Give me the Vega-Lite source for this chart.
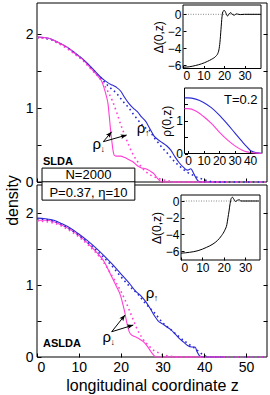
{
"$schema": "https://vega.github.io/schema/vega-lite/v6.json",
"width": 230, "height": 354,
"autosize": "none",
"padding": {"left": 37, "top": 3, "right": 3, "bottom": 38},
"background": "#ffffff",
"config": {
 "font": "Liberation Sans",
 "view": {"stroke": null},
 "axis": {"grid": false, "domain": false, "tickColor": "#000", "labelColor": "#000", "titleColor": "#000",
  "labelFont": "Liberation Sans", "titleFont": "Liberation Sans", "titleFontWeight": "normal", "labelFontSize": 14, "tickWidth": 1}
},
"datasets": {
 "top": [
  {"z":0,"rho":1.96,"spin":"up","set":1},{"z":3,"rho":1.94,"spin":"up","set":1},{"z":5,"rho":1.89,"spin":"up","set":1},{"z":7,"rho":1.83,"spin":"up","set":1},{"z":9,"rho":1.75,"spin":"up","set":1},{"z":11,"rho":1.66,"spin":"up","set":1},{"z":13,"rho":1.55,"spin":"up","set":1},{"z":15,"rho":1.43,"spin":"up","set":1},{"z":16,"rho":1.38,"spin":"up","set":1},{"z":17,"rho":1.34,"spin":"up","set":1},{"z":18,"rho":1.31,"spin":"up","set":1},{"z":19,"rho":1.28,"spin":"up","set":1},{"z":20,"rho":1.23,"spin":"up","set":1},{"z":21,"rho":1.14,"spin":"up","set":1},{"z":22,"rho":1.06,"spin":"up","set":1},{"z":23,"rho":1.0,"spin":"up","set":1},{"z":24,"rho":0.95,"spin":"up","set":1},{"z":25,"rho":0.88,"spin":"up","set":1},{"z":26,"rho":0.82,"spin":"up","set":1},{"z":27,"rho":0.72,"spin":"up","set":1},{"z":28,"rho":0.62,"spin":"up","set":1},{"z":29,"rho":0.57,"spin":"up","set":1},{"z":30,"rho":0.53,"spin":"up","set":1},{"z":31,"rho":0.49,"spin":"up","set":1},{"z":32,"rho":0.43,"spin":"up","set":1},{"z":33,"rho":0.34,"spin":"up","set":1},{"z":34,"rho":0.26,"spin":"up","set":1},{"z":35,"rho":0.2,"spin":"up","set":1},{"z":36,"rho":0.16,"spin":"up","set":1},{"z":36.8,"rho":0.18,"spin":"up","set":1},{"z":37.5,"rho":0.11,"spin":"up","set":1},{"z":38.3,"rho":0.03,"spin":"up","set":1},{"z":39,"rho":0,"spin":"up","set":1},{"z":45,"rho":0,"spin":"up","set":1},
  {"z":0,"rho":1.96,"spin":"down","set":1},{"z":3,"rho":1.94,"spin":"down","set":1},{"z":5,"rho":1.89,"spin":"down","set":1},{"z":7,"rho":1.83,"spin":"down","set":1},{"z":9,"rho":1.74,"spin":"down","set":1},{"z":11,"rho":1.65,"spin":"down","set":1},{"z":13,"rho":1.53,"spin":"down","set":1},{"z":14,"rho":1.47,"spin":"down","set":1},{"z":15,"rho":1.4,"spin":"down","set":1},{"z":15.5,"rho":1.36,"spin":"down","set":1},{"z":16,"rho":1.28,"spin":"down","set":1},{"z":16.5,"rho":1.18,"spin":"down","set":1},{"z":17,"rho":1.05,"spin":"down","set":1},{"z":17.3,"rho":0.88,"spin":"down","set":1},{"z":17.6,"rho":0.7,"spin":"down","set":1},{"z":17.9,"rho":0.55,"spin":"down","set":1},{"z":18.2,"rho":0.42,"spin":"down","set":1},{"z":18.5,"rho":0.36,"spin":"down","set":1},{"z":19,"rho":0.35,"spin":"down","set":1},{"z":20,"rho":0.35,"spin":"down","set":1},{"z":21,"rho":0.33,"spin":"down","set":1},{"z":22,"rho":0.3,"spin":"down","set":1},{"z":23,"rho":0.27,"spin":"down","set":1},{"z":24,"rho":0.22,"spin":"down","set":1},{"z":25,"rho":0.19,"spin":"down","set":1},{"z":26,"rho":0.18,"spin":"down","set":1},{"z":27,"rho":0.15,"spin":"down","set":1},{"z":28,"rho":0.11,"spin":"down","set":1},{"z":28.8,"rho":0.05,"spin":"down","set":1},{"z":29.5,"rho":0.01,"spin":"down","set":1},{"z":30,"rho":0,"spin":"down","set":1},{"z":45,"rho":0,"spin":"down","set":1},
  {"z":0,"rho":1.95,"spin":"up","set":2},{"z":3,"rho":1.93,"spin":"up","set":2},{"z":5,"rho":1.88,"spin":"up","set":2},{"z":7,"rho":1.82,"spin":"up","set":2},{"z":9,"rho":1.74,"spin":"up","set":2},{"z":11,"rho":1.65,"spin":"up","set":2},{"z":13,"rho":1.54,"spin":"up","set":2},{"z":15,"rho":1.42,"spin":"up","set":2},{"z":16,"rho":1.36,"spin":"up","set":2},{"z":17,"rho":1.3,"spin":"up","set":2},{"z":18,"rho":1.25,"spin":"up","set":2},{"z":19,"rho":1.2,"spin":"up","set":2},{"z":20,"rho":1.13,"spin":"up","set":2},{"z":21,"rho":1.06,"spin":"up","set":2},{"z":22,"rho":1.0,"spin":"up","set":2},{"z":23,"rho":0.92,"spin":"up","set":2},{"z":24,"rho":0.85,"spin":"up","set":2},{"z":25,"rho":0.78,"spin":"up","set":2},{"z":26,"rho":0.73,"spin":"up","set":2},{"z":27,"rho":0.69,"spin":"up","set":2},{"z":28,"rho":0.6,"spin":"up","set":2},{"z":29,"rho":0.53,"spin":"up","set":2},{"z":30,"rho":0.46,"spin":"up","set":2},{"z":31,"rho":0.4,"spin":"up","set":2},{"z":32,"rho":0.33,"spin":"up","set":2},{"z":33,"rho":0.27,"spin":"up","set":2},{"z":34,"rho":0.22,"spin":"up","set":2},{"z":35,"rho":0.17,"spin":"up","set":2},{"z":36,"rho":0.13,"spin":"up","set":2},{"z":37,"rho":0.1,"spin":"up","set":2},{"z":38,"rho":0.07,"spin":"up","set":2},{"z":39,"rho":0.05,"spin":"up","set":2},{"z":40,"rho":0.03,"spin":"up","set":2},{"z":41,"rho":0.015,"spin":"up","set":2},{"z":42,"rho":0,"spin":"up","set":2},{"z":55,"rho":0,"spin":"up","set":2},
  {"z":0,"rho":1.95,"spin":"down","set":2},{"z":3,"rho":1.93,"spin":"down","set":2},{"z":5,"rho":1.88,"spin":"down","set":2},{"z":7,"rho":1.81,"spin":"down","set":2},{"z":9,"rho":1.73,"spin":"down","set":2},{"z":11,"rho":1.64,"spin":"down","set":2},{"z":13,"rho":1.52,"spin":"down","set":2},{"z":15,"rho":1.4,"spin":"down","set":2},{"z":16,"rho":1.32,"spin":"down","set":2},{"z":17,"rho":1.22,"spin":"down","set":2},{"z":18,"rho":1.1,"spin":"down","set":2},{"z":19,"rho":0.95,"spin":"down","set":2},{"z":20,"rho":0.78,"spin":"down","set":2},{"z":21,"rho":0.63,"spin":"down","set":2},{"z":22,"rho":0.49,"spin":"down","set":2},{"z":23,"rho":0.37,"spin":"down","set":2},{"z":24,"rho":0.28,"spin":"down","set":2},{"z":25,"rho":0.2,"spin":"down","set":2},{"z":26,"rho":0.14,"spin":"down","set":2},{"z":27,"rho":0.1,"spin":"down","set":2},{"z":28,"rho":0.07,"spin":"down","set":2},{"z":29,"rho":0.05,"spin":"down","set":2},{"z":30,"rho":0.03,"spin":"down","set":2},{"z":31,"rho":0.02,"spin":"down","set":2},{"z":32,"rho":0.01,"spin":"down","set":2},{"z":33,"rho":0,"spin":"down","set":2},{"z":55,"rho":0,"spin":"down","set":2}
 ],
 "bottom": [
  {"z":0,"rho":1.93,"spin":"up","set":1},{"z":2,"rho":1.92,"spin":"up","set":1},{"z":4,"rho":1.9,"spin":"up","set":1},{"z":6,"rho":1.85,"spin":"up","set":1},{"z":8,"rho":1.79,"spin":"up","set":1},{"z":10,"rho":1.71,"spin":"up","set":1},{"z":12,"rho":1.62,"spin":"up","set":1},{"z":14,"rho":1.52,"spin":"up","set":1},{"z":16,"rho":1.41,"spin":"up","set":1},{"z":18,"rho":1.29,"spin":"up","set":1},{"z":20,"rho":1.16,"spin":"up","set":1},{"z":22,"rho":1.03,"spin":"up","set":1},{"z":23.5,"rho":0.92,"spin":"up","set":1},{"z":25,"rho":0.84,"spin":"up","set":1},{"z":26,"rho":0.77,"spin":"up","set":1},{"z":27,"rho":0.68,"spin":"up","set":1},{"z":28,"rho":0.58,"spin":"up","set":1},{"z":29,"rho":0.5,"spin":"up","set":1},{"z":30,"rho":0.46,"spin":"up","set":1},{"z":31,"rho":0.42,"spin":"up","set":1},{"z":32,"rho":0.38,"spin":"up","set":1},{"z":33,"rho":0.32,"spin":"up","set":1},{"z":34,"rho":0.26,"spin":"up","set":1},{"z":35,"rho":0.21,"spin":"up","set":1},{"z":36,"rho":0.16,"spin":"up","set":1},{"z":37,"rho":0.14,"spin":"up","set":1},{"z":37.8,"rho":0.14,"spin":"up","set":1},{"z":38.3,"rho":0.07,"spin":"up","set":1},{"z":39,"rho":0.01,"spin":"up","set":1},{"z":40,"rho":0,"spin":"up","set":1},{"z":45,"rho":0,"spin":"up","set":1},
  {"z":0,"rho":1.9,"spin":"down","set":1},{"z":2,"rho":1.9,"spin":"down","set":1},{"z":4,"rho":1.88,"spin":"down","set":1},{"z":6,"rho":1.83,"spin":"down","set":1},{"z":8,"rho":1.77,"spin":"down","set":1},{"z":10,"rho":1.69,"spin":"down","set":1},{"z":12,"rho":1.59,"spin":"down","set":1},{"z":14,"rho":1.47,"spin":"down","set":1},{"z":16,"rho":1.33,"spin":"down","set":1},{"z":17,"rho":1.22,"spin":"down","set":1},{"z":18,"rho":1.1,"spin":"down","set":1},{"z":19,"rho":0.98,"spin":"down","set":1},{"z":20,"rho":0.85,"spin":"down","set":1},{"z":20.5,"rho":0.74,"spin":"down","set":1},{"z":21,"rho":0.62,"spin":"down","set":1},{"z":21.5,"rho":0.47,"spin":"down","set":1},{"z":22,"rho":0.36,"spin":"down","set":1},{"z":22.5,"rho":0.31,"spin":"down","set":1},{"z":23.5,"rho":0.28,"spin":"down","set":1},{"z":24.5,"rho":0.25,"spin":"down","set":1},{"z":25.5,"rho":0.21,"spin":"down","set":1},{"z":26.5,"rho":0.14,"spin":"down","set":1},{"z":27.3,"rho":0.07,"spin":"down","set":1},{"z":28,"rho":0.02,"spin":"down","set":1},{"z":28.5,"rho":0,"spin":"down","set":1},{"z":45,"rho":0,"spin":"down","set":1},
  {"z":0,"rho":1.92,"spin":"up","set":2},{"z":4,"rho":1.89,"spin":"up","set":2},{"z":8,"rho":1.77,"spin":"up","set":2},{"z":12,"rho":1.6,"spin":"up","set":2},{"z":16,"rho":1.38,"spin":"up","set":2},{"z":18,"rho":1.26,"spin":"up","set":2},{"z":20,"rho":1.12,"spin":"up","set":2},{"z":22,"rho":0.99,"spin":"up","set":2},{"z":24,"rho":0.88,"spin":"up","set":2},{"z":26,"rho":0.74,"spin":"up","set":2},{"z":27,"rho":0.68,"spin":"up","set":2},{"z":28,"rho":0.62,"spin":"up","set":2},{"z":29,"rho":0.55,"spin":"up","set":2},{"z":30,"rho":0.48,"spin":"up","set":2},{"z":32,"rho":0.38,"spin":"up","set":2},{"z":34,"rho":0.28,"spin":"up","set":2},{"z":36,"rho":0.19,"spin":"up","set":2},{"z":38,"rho":0.11,"spin":"up","set":2},{"z":39,"rho":0.06,"spin":"up","set":2},{"z":40,"rho":0.02,"spin":"up","set":2},{"z":41,"rho":0,"spin":"up","set":2},{"z":55,"rho":0,"spin":"up","set":2},
  {"z":0,"rho":1.89,"spin":"down","set":2},{"z":4,"rho":1.86,"spin":"down","set":2},{"z":8,"rho":1.75,"spin":"down","set":2},{"z":12,"rho":1.57,"spin":"down","set":2},{"z":16,"rho":1.31,"spin":"down","set":2},{"z":18,"rho":1.12,"spin":"down","set":2},{"z":20,"rho":0.92,"spin":"down","set":2},{"z":21,"rho":0.8,"spin":"down","set":2},{"z":22,"rho":0.66,"spin":"down","set":2},{"z":23,"rho":0.52,"spin":"down","set":2},{"z":24,"rho":0.38,"spin":"down","set":2},{"z":25,"rho":0.28,"spin":"down","set":2},{"z":26,"rho":0.2,"spin":"down","set":2},{"z":27,"rho":0.14,"spin":"down","set":2},{"z":28,"rho":0.09,"spin":"down","set":2},{"z":29,"rho":0.06,"spin":"down","set":2},{"z":30,"rho":0.03,"spin":"down","set":2},{"z":32,"rho":0.01,"spin":"down","set":2},{"z":33,"rho":0,"spin":"down","set":2},{"z":55,"rho":0,"spin":"down","set":2}
 ],
 "gap": [
  {"z":0,"delta":-6.25,"panel":"SLDA"},{"z":3,"delta":-6.2,"panel":"SLDA"},{"z":6,"delta":-6.05,"panel":"SLDA"},{"z":9,"delta":-5.85,"panel":"SLDA"},{"z":12,"delta":-5.55,"panel":"SLDA"},{"z":14,"delta":-5.3,"panel":"SLDA"},{"z":16,"delta":-4.95,"panel":"SLDA"},{"z":17,"delta":-4.6,"panel":"SLDA"},{"z":17.5,"delta":-4.2,"panel":"SLDA"},{"z":18,"delta":-3.3,"panel":"SLDA"},{"z":18.5,"delta":-1.8,"panel":"SLDA"},{"z":19,"delta":-0.3,"panel":"SLDA"},{"z":19.5,"delta":0.35,"panel":"SLDA"},{"z":20.2,"delta":0.45,"panel":"SLDA"},{"z":21,"delta":0.1,"panel":"SLDA"},{"z":21.7,"delta":-0.2,"panel":"SLDA"},{"z":22.5,"delta":0.05,"panel":"SLDA"},{"z":23.3,"delta":0.2,"panel":"SLDA"},{"z":24,"delta":0,"panel":"SLDA"},{"z":25,"delta":-0.1,"panel":"SLDA"},{"z":26,"delta":0.05,"panel":"SLDA"},{"z":27,"delta":0,"panel":"SLDA"},{"z":28,"delta":-0.03,"panel":"SLDA"},{"z":30,"delta":0,"panel":"SLDA"},{"z":38,"delta":0,"panel":"SLDA"},
  {"z":0,"delta":-6.25,"panel":"ASLDA"},{"z":4,"delta":-6.15,"panel":"ASLDA"},{"z":8,"delta":-5.95,"panel":"ASLDA"},{"z":12,"delta":-5.55,"panel":"ASLDA"},{"z":15,"delta":-5.15,"panel":"ASLDA"},{"z":17,"delta":-4.75,"panel":"ASLDA"},{"z":19,"delta":-4.15,"panel":"ASLDA"},{"z":20.5,"delta":-3.5,"panel":"ASLDA"},{"z":21.5,"delta":-2.8,"panel":"ASLDA"},{"z":22,"delta":-2.0,"panel":"ASLDA"},{"z":22.5,"delta":-1.2,"panel":"ASLDA"},{"z":23,"delta":-0.3,"panel":"ASLDA"},{"z":23.5,"delta":0.3,"panel":"ASLDA"},{"z":24.1,"delta":0.45,"panel":"ASLDA"},{"z":24.8,"delta":0.2,"panel":"ASLDA"},{"z":25.5,"delta":-0.05,"panel":"ASLDA"},{"z":26.5,"delta":0.1,"panel":"ASLDA"},{"z":27.3,"delta":0.15,"panel":"ASLDA"},{"z":28,"delta":0,"panel":"ASLDA"},{"z":29,"delta":0,"panel":"ASLDA"},{"z":36.5,"delta":0,"panel":"ASLDA"}
 ],
 "warm": [
  {"z":-2.3,"rho":1.7,"spin":"up"},{"z":0,"rho":1.7,"spin":"up"},{"z":5,"rho":1.66,"spin":"up"},{"z":10,"rho":1.56,"spin":"up"},{"z":15,"rho":1.4,"spin":"up"},{"z":20,"rho":1.18,"spin":"up"},{"z":25,"rho":0.92,"spin":"up"},{"z":30,"rho":0.64,"spin":"up"},{"z":35,"rho":0.36,"spin":"up"},{"z":38,"rho":0.2,"spin":"up"},{"z":40,"rho":0.1,"spin":"up"},{"z":42,"rho":0.05,"spin":"up"},{"z":45,"rho":0.02,"spin":"up"},{"z":47.7,"rho":0.005,"spin":"up"},
  {"z":-2.3,"rho":1.37,"spin":"down"},{"z":0,"rho":1.37,"spin":"down"},{"z":5,"rho":1.3,"spin":"down"},{"z":10,"rho":1.13,"spin":"down"},{"z":15,"rho":0.92,"spin":"down"},{"z":20,"rho":0.66,"spin":"down"},{"z":25,"rho":0.43,"spin":"down"},{"z":30,"rho":0.24,"spin":"down"},{"z":35,"rho":0.1,"spin":"down"},{"z":38,"rho":0.05,"spin":"down"},{"z":40,"rho":0.03,"spin":"down"},{"z":45,"rho":0.008,"spin":"down"},{"z":47.7,"rho":0.002,"spin":"down"}
 ]
},
"layer": [
 {
  "layer": [
   {"data": {"values": [{}]}, "mark": {"type": "rect", "fillOpacity": 0, "stroke": "#000", "strokeWidth": 1},
    "encoding": {
     "x": {"datum": 0, "type": "quantitative", "scale": {"domain": [0, 55], "range": [0, 230], "nice": false, "zero": false},
      "axis": {"orient": "bottom", "offset": -175, "values": [0,5,10,15,20,25,30,35,40,45,50], "labels": false, "tickSize": -4, "title": null, "zindex": 0}},
     "x2": {"datum": 55},
     "y": {"datum": 0, "type": "quantitative", "scale": {"domain": [0, 2.42], "range": [179, 0], "nice": false, "zero": false},
      "axis": {"orient": "left", "values": [0, 0.5, 1, 1.5, 2], "labelExpr": "datum.value % 1 === 0 ? format(datum.value, 'd') : ''", "tickSize": -4, "labelPadding": 8, "title": null, "zindex": 1}},
     "y2": {"datum": 2.42}}},
   {"data": {"name": "top"}, "transform": [{"filter": "datum.set === 1"}],
    "mark": {"type": "line", "strokeWidth": 1.1, "interpolate": "monotone"},
    "encoding": {
     "x": {"field": "z", "type": "quantitative"},
     "y": {"field": "rho", "type": "quantitative"},
     "color": {"field": "spin", "type": "nominal", "scale": {"domain": ["up", "down"], "range": ["#2a2ad4", "#ff3fd6"]}, "legend": null}}},
   {"data": {"name": "top"}, "transform": [{"filter": "datum.set === 2"}],
    "mark": {"type": "line", "strokeWidth": 1.6, "strokeDash": [1.6, 3.2], "interpolate": "monotone"},
    "encoding": {"x": {"field": "z", "type": "quantitative"}, "y": {"field": "rho", "type": "quantitative"},
     "color": {"field": "spin", "type": "nominal", "legend": null}}},
   {"data": {"values": [{"z": 1.43, "rho": 0.27, "label": "SLDA"}]},
    "mark": {"type": "text", "align": "left", "baseline": "middle", "fontWeight": "bold", "fontSize": 11},
    "encoding": {"x": {"field": "z", "type": "quantitative"}, "y": {"field": "rho", "type": "quantitative"}, "text": {"field": "label"}}},
   {"data": {"values": [{"z": 14.3, "rho": 0.52, "name": "ρ", "sub": "↓"}, {"z": 24.9, "rho": 0.73, "name": "ρ", "sub": "↑"}]},
    "layer": [
     {"mark": {"type": "text", "align": "center", "baseline": "middle", "fontSize": 15},
      "encoding": {"x": {"field": "z", "type": "quantitative"}, "y": {"field": "rho", "type": "quantitative"}, "text": {"field": "name"}}},
     {"mark": {"type": "text", "align": "center", "baseline": "middle", "fontSize": 9, "dx": 6, "dy": 5},
      "encoding": {"x": {"field": "z", "type": "quantitative"}, "y": {"field": "rho", "type": "quantitative"}, "text": {"field": "sub"}}}
    ]},
   {"data": {"values": [{"z0": 15.85, "r0": 0.545, "z1": 17.86, "r1": 0.68, "id": "a"}, {"z0": 15.85, "r0": 0.545, "z1": 21.45, "r1": 0.635, "id": "b"}]},
    "layer": [
     {"mark": {"type": "rule", "strokeWidth": 1, "color": "#000"},
      "encoding": {"x": {"field": "z0", "type": "quantitative"}, "y": {"field": "r0", "type": "quantitative"}, "x2": {"field": "z1"}, "y2": {"field": "r1"}}},
     {"transform": [{"filter": "datum.id === 'a'"}], "mark": {"type": "point", "shape": "M0,0L0.4,1L0,0.8L-0.4,1Z", "filled": true, "color": "#000", "size": 144, "angle": 40, "opacity": 1},
      "encoding": {"x": {"field": "z1", "type": "quantitative"}, "y": {"field": "r1", "type": "quantitative"}}},
     {"transform": [{"filter": "datum.id === 'b'"}], "mark": {"type": "point", "shape": "M0,0L0.4,1L0,0.8L-0.4,1Z", "filled": true, "color": "#000", "size": 144, "angle": 74, "opacity": 1},
      "encoding": {"x": {"field": "z1", "type": "quantitative"}, "y": {"field": "r1", "type": "quantitative"}}}
    ]}
  ]
 },
 {
  "layer": [
   {"data": {"values": [{}]}, "mark": {"type": "rect", "fillOpacity": 0, "stroke": "#000", "strokeWidth": 1},
    "encoding": {
     "x": {"datum": 0, "type": "quantitative", "scale": {"domain": [0, 55], "range": [0, 230], "nice": false, "zero": false},
      "axis": {"orient": "bottom", "values": [0,5,10,15,20,25,30,35,40,45,50], "labelExpr": "datum.value % 10 === 0 ? format(datum.value, 'd') : ''", "tickSize": -4, "labelPadding": 7, "title": "longitudinal coordinate z", "titleFontSize": 16, "titlePadding": 3, "zindex": 1}},
     "x2": {"datum": 55},
     "y": {"datum": 0, "type": "quantitative", "scale": {"domain": [0, 2.39], "range": [354, 182], "nice": false, "zero": false},
      "axis": {"orient": "left", "values": [0, 0.5, 1, 1.5, 2], "labelExpr": "datum.value % 1 === 0 ? format(datum.value, 'd') : ''", "tickSize": -4, "labelPadding": 8, "title": "density", "titleFontSize": 16, "titleX": -25, "titleY": 197, "titleBaseline": "middle", "titleAlign": "center", "zindex": 1}},
     "y2": {"datum": 2.39}}},
   {"data": {"name": "bottom"}, "transform": [{"filter": "datum.set === 1"}],
    "mark": {"type": "line", "strokeWidth": 1.1, "interpolate": "monotone"},
    "encoding": {
     "x": {"field": "z", "type": "quantitative"},
     "y": {"field": "rho", "type": "quantitative"},
     "color": {"field": "spin", "type": "nominal", "scale": {"domain": ["up", "down"], "range": ["#2a2ad4", "#ff3fd6"]}, "legend": null}}},
   {"data": {"name": "bottom"}, "transform": [{"filter": "datum.set === 2"}],
    "mark": {"type": "line", "strokeWidth": 1.6, "strokeDash": [1.6, 3.2], "interpolate": "monotone"},
    "encoding": {"x": {"field": "z", "type": "quantitative"}, "y": {"field": "rho", "type": "quantitative"},
     "color": {"field": "spin", "type": "nominal", "legend": null}}},
   {"data": {"values": [{"z": 1.43, "rho": 0.18, "label": "ASLDA"}]},
    "mark": {"type": "text", "align": "left", "baseline": "middle", "fontWeight": "bold", "fontSize": 11},
    "encoding": {"x": {"field": "z", "type": "quantitative"}, "y": {"field": "rho", "type": "quantitative"}, "text": {"field": "label"}}},
   {"data": {"values": [{"z": 16.67, "rho": 0.28, "name": "ρ", "sub": "↓"}, {"z": 27.0, "rho": 0.885, "name": "ρ", "sub": "↑"}]},
    "layer": [
     {"mark": {"type": "text", "align": "center", "baseline": "middle", "fontSize": 15},
      "encoding": {"x": {"field": "z", "type": "quantitative"}, "y": {"field": "rho", "type": "quantitative"}, "text": {"field": "name"}}},
     {"mark": {"type": "text", "align": "center", "baseline": "middle", "fontSize": 9, "dx": 6, "dy": 5},
      "encoding": {"x": {"field": "z", "type": "quantitative"}, "y": {"field": "rho", "type": "quantitative"}, "text": {"field": "sub"}}}
    ]},
   {"data": {"values": [{"z0": 17.86, "r0": 0.351, "z1": 21.04, "r1": 0.583, "id": "a"}, {"z0": 17.86, "r0": 0.351, "z1": 23.03, "r1": 0.444, "id": "b"}]},
    "layer": [
     {"mark": {"type": "rule", "strokeWidth": 1, "color": "#000"},
      "encoding": {"x": {"field": "z0", "type": "quantitative"}, "y": {"field": "r0", "type": "quantitative"}, "x2": {"field": "z1"}, "y2": {"field": "r1"}}},
     {"transform": [{"filter": "datum.id === 'a'"}], "mark": {"type": "point", "shape": "M0,0L0.4,1L0,0.8L-0.4,1Z", "filled": true, "color": "#000", "size": 144, "angle": 38, "opacity": 1},
      "encoding": {"x": {"field": "z1", "type": "quantitative"}, "y": {"field": "r1", "type": "quantitative"}}},
     {"transform": [{"filter": "datum.id === 'b'"}], "mark": {"type": "point", "shape": "M0,0L0.4,1L0,0.8L-0.4,1Z", "filled": true, "color": "#000", "size": 144, "angle": 73, "opacity": 1},
      "encoding": {"x": {"field": "z1", "type": "quantitative"}, "y": {"field": "r1", "type": "quantitative"}}}
    ]},
   {"data": {"values": [{}]}, "mark": {"type": "rect", "fill": "#ffffff", "stroke": "#000", "strokeWidth": 1},
    "encoding": {"x": {"datum": 1.2, "type": "quantitative"}, "x2": {"datum": 23.4}, "y": {"datum": 2.18, "type": "quantitative"}, "y2": {"datum": 2.625}}},
   {"data": {"values": [{}]}, "mark": {"type": "rule", "color": "#000", "strokeWidth": 1},
    "encoding": {"x": {"datum": 1.2, "type": "quantitative"}, "x2": {"datum": 23.4}, "y": {"datum": 2.435, "type": "quantitative"}}},
   {"data": {"values": [{"z": 12.3, "rho": 2.525, "label": "N=2000"}, {"z": 12.3, "rho": 2.285, "label": "P=0.37, η=10"}]},
    "mark": {"type": "text", "align": "center", "baseline": "middle", "fontSize": 13},
    "encoding": {"x": {"field": "z", "type": "quantitative"}, "y": {"field": "rho", "type": "quantitative"}, "text": {"field": "label"}}}
  ]
 },
 {
  "data": {"values": [{}]},
  "mark": {"type": "rule", "strokeOpacity": 0},
  "encoding": {
   "y": {"datum": 0, "type": "quantitative", "scale": {"domain": [0, 2.42], "range": [179, 0], "nice": false, "zero": false},
    "axis": {"orient": "right", "values": [0.5, 1, 1.5, 2], "labels": false, "tickSize": -4, "title": null, "zindex": 1}}}
 },
 {
  "data": {"values": [{}]},
  "mark": {"type": "rule", "strokeOpacity": 0},
  "encoding": {
   "y": {"datum": 0, "type": "quantitative", "scale": {"domain": [0, 2.39], "range": [354, 182], "nice": false, "zero": false},
    "axis": {"orient": "right", "values": [0.5, 1, 1.5, 2], "labels": false, "tickSize": -4, "title": null, "zindex": 1}}}
 },
 {
  "layer": [
   {"data": {"values": [{}]}, "mark": {"type": "rect", "fill": "#ffffff", "stroke": "#000", "strokeWidth": 1},
    "encoding": {
     "x": {"datum": 0, "type": "quantitative", "scale": {"domain": [0, 38], "range": [146, 224], "nice": false, "zero": false},
      "axis": {"orient": "bottom", "offset": -288.5, "values": [0, 10, 20, 30], "tickSize": -3, "labelPadding": 5, "labelFontSize": 12, "title": null, "zindex": 1}},
     "x2": {"datum": 38},
     "y": {"datum": -6.4, "type": "quantitative", "scale": {"domain": [-6.4, 1.1], "range": [65.5, 2], "nice": false, "zero": false},
      "axis": {"orient": "left", "offset": -146, "values": [0, -2, -4, -6], "tickSize": -3, "labelPadding": 5, "labelFontSize": 12, "title": "Δ(0,z)", "titleFontSize": 12, "titlePadding": 2, "zindex": 1}},
     "y2": {"datum": 1.1}}},
   {"data": {"values": [{}]}, "mark": {"type": "rule", "color": "#888", "strokeWidth": 1, "strokeDash": [1, 1.5]},
    "encoding": {"x": {"datum": 0, "type": "quantitative"}, "x2": {"datum": 38}, "y": {"datum": 0, "type": "quantitative"}}},
   {"data": {"name": "gap"}, "transform": [{"filter": "datum.panel === 'SLDA'"}],
    "mark": {"type": "line", "color": "#000", "strokeWidth": 1, "interpolate": "monotone"},
    "encoding": {"x": {"field": "z", "type": "quantitative"}, "y": {"field": "delta", "type": "quantitative"}}}
  ]
 },
 {
  "layer": [
   {"data": {"values": [{}]}, "mark": {"type": "rect", "fill": "#ffffff", "stroke": "#000", "strokeWidth": 1},
    "encoding": {
     "x": {"datum": -2.3, "type": "quantitative", "scale": {"domain": [-2.3, 47.7], "range": [147.5, 225], "nice": false, "zero": false},
      "axis": {"orient": "bottom", "offset": -203.5, "values": [0, 10, 20, 30, 40], "tickSize": -3, "labelPadding": 5, "labelFontSize": 12, "title": null, "zindex": 1}},
     "x2": {"datum": 47.7},
     "y": {"datum": 0, "type": "quantitative", "scale": {"domain": [0, 2], "range": [150.5, 85], "nice": false, "zero": false},
      "axis": {"orient": "left", "offset": -147.5, "values": [0, 0.5, 1, 1.5], "labelExpr": "datum.value % 1 === 0 ? format(datum.value, 'd') : ''", "tickSize": -3, "labelPadding": 5, "labelFontSize": 12, "title": "ρ(0,z)", "titleFontSize": 12, "titlePadding": 2, "zindex": 1}},
     "y2": {"datum": 2}}},
   {"data": {"name": "warm"},
    "mark": {"type": "line", "strokeWidth": 1.1, "interpolate": "monotone"},
    "encoding": {
     "x": {"field": "z", "type": "quantitative"},
     "y": {"field": "rho", "type": "quantitative"},
     "color": {"field": "spin", "type": "nominal", "scale": {"domain": ["up", "down"], "range": ["#2a2ad4", "#ff3fd6"]}, "legend": null}}},
   {"data": {"values": [{"z": 34, "rho": 1.63, "label": "T=0.2"}]},
    "mark": {"type": "text", "align": "center", "baseline": "middle", "fontSize": 13},
    "encoding": {"x": {"field": "z", "type": "quantitative"}, "y": {"field": "rho", "type": "quantitative"}, "text": {"field": "label"}}}
  ]
 },
 {
  "layer": [
   {"data": {"values": [{}]}, "mark": {"type": "rect", "fill": "#ffffff", "stroke": "#000", "strokeWidth": 1},
    "encoding": {
     "x": {"datum": 0, "type": "quantitative", "scale": {"domain": [0, 37], "range": [144, 223], "nice": false, "zero": false},
      "axis": {"orient": "bottom", "offset": -97, "values": [0, 10, 20, 30], "tickSize": -3, "labelPadding": 5, "labelFontSize": 12, "title": null, "zindex": 1}},
     "x2": {"datum": 37},
     "y": {"datum": -7.07, "type": "quantitative", "scale": {"domain": [-7.07, 0.72], "range": [257, 192], "nice": false, "zero": false},
      "axis": {"orient": "left", "offset": -144, "values": [0, -2, -4, -6], "tickSize": -3, "labelPadding": 5, "labelFontSize": 12, "title": "Δ(0,z)", "titleFontSize": 12, "titlePadding": 2, "zindex": 1}},
     "y2": {"datum": 0.72}}},
   {"data": {"values": [{}]}, "mark": {"type": "rule", "color": "#888", "strokeWidth": 1, "strokeDash": [1, 1.5]},
    "encoding": {"x": {"datum": 0, "type": "quantitative"}, "x2": {"datum": 37}, "y": {"datum": 0, "type": "quantitative"}}},
   {"data": {"name": "gap"}, "transform": [{"filter": "datum.panel === 'ASLDA'"}],
    "mark": {"type": "line", "color": "#000", "strokeWidth": 1, "interpolate": "monotone"},
    "encoding": {"x": {"field": "z", "type": "quantitative"}, "y": {"field": "delta", "type": "quantitative"}}}
  ]
 }
],
"resolve": {"scale": {"x": "independent", "y": "independent"}, "axis": {"x": "independent", "y": "independent"}}
}
